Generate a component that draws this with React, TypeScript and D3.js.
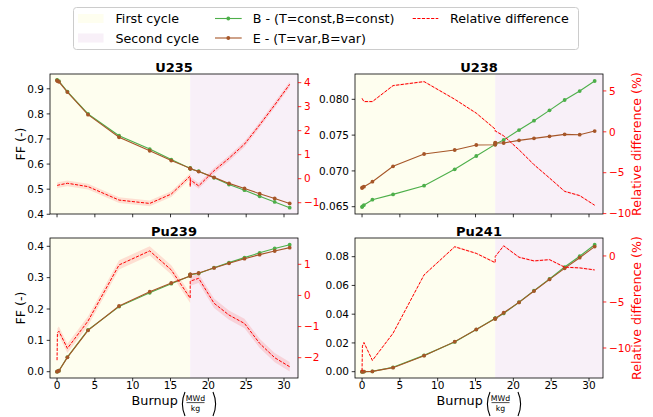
import React from "react";
import * as d3 from "d3";

// ---------- data ----------
const burnup = [0, 0.05, 0.25, 1.37, 4.1, 8.2, 12.25, 15.1, 17.6, 17.6, 17.62, 18.72, 20.75, 22.73, 24.78, 26.78, 28.77, 30.75];
const cycleEnd = 17.6;
const xTicks = [0, 5, 10, 15, 20, 25, 30];

const isotopes = ["U235", "U238", "Pu239", "Pu241"];

const u235B = [0.9357, 0.9336, 0.9304, 0.8887, 0.7996, 0.7133, 0.6598, 0.618, 0.5824, 0.585, 0.5813, 0.5717, 0.5452, 0.5186, 0.4959, 0.4714, 0.4492, 0.4263];
const u235E = [0.933, 0.931, 0.928, 0.887, 0.797, 0.707, 0.653, 0.614, 0.583, 0.583, 0.581, 0.57, 0.547, 0.523, 0.503, 0.482, 0.463, 0.443];
const u235Rel = [-0.29, -0.28, -0.26, -0.19, -0.33, -0.89, -1.03, -0.64, 0.11, -0.33, -0.05, -0.3, 0.33, 0.85, 1.44, 2.24, 3.07, 3.93];

const u238B = [0.06495, 0.06505, 0.06523, 0.06598, 0.06672, 0.06794, 0.07022, 0.07208, 0.07371, 0.07371, 0.07375, 0.07432, 0.07571, 0.07702, 0.07846, 0.07991, 0.08116, 0.08256];
const u238E = [0.06761, 0.0677, 0.0678, 0.06849, 0.07064, 0.07236, 0.07292, 0.07362, 0.07365, 0.07394, 0.07392, 0.0739, 0.07427, 0.07455, 0.07483, 0.07511, 0.07506, 0.07557];
const u238Rel = [4.1, 4.0, 3.7, 3.7, 5.65, 6.14, 3.98, 2.28, 0.33, 0.08, 0.1, -0.49, -2.2, -4.02, -5.65, -7.28, -7.8, -8.98];

const pu239B = [0, 0.001, 0.003, 0.0465, 0.1331, 0.2076, 0.2517, 0.2807, 0.3056, 0.3092, 0.3092, 0.3132, 0.3317, 0.3479, 0.3639, 0.3792, 0.393, 0.405];
const pu239E = [0, 0.001, 0.003, 0.0457, 0.132, 0.2096, 0.2553, 0.283, 0.3053, 0.3106, 0.3106, 0.3149, 0.3309, 0.3457, 0.3606, 0.3734, 0.3851, 0.3957];
const pu239Rel = [-2.08, -1.2, -1.15, -1.7, -0.82, 0.98, 1.43, 0.82, -0.09, 0.46, 0.46, 0.55, -0.25, -0.63, -0.9, -1.54, -2.0, -2.29];

const pu241B = [0, 0, 0.00005, 0.0002, 0.00306, 0.01134, 0.0207, 0.0293, 0.0372, 0.0369, 0.037, 0.0405, 0.0483, 0.0564, 0.0645, 0.0728, 0.0803, 0.0883];
const pu241E = [0, 0, 0.00005, 0.0002, 0.0028, 0.0111, 0.0209, 0.0294, 0.0369, 0.0369, 0.037, 0.041, 0.0482, 0.0561, 0.0642, 0.0719, 0.0793, 0.087];
const pu241Rel = [-12.5, -9.8, -9.4, -11.35, -8.4, -2.06, 1.0, 0.28, -0.73, -0.07, -0.05, 1.1, -0.14, -0.54, -0.4, -1.22, -1.3, -1.52];

const leftTicks = [
  [0.4, 0.5, 0.6, 0.7, 0.8, 0.9],
  [0.065, 0.07, 0.075, 0.08],
  [0, 0.1, 0.2, 0.3, 0.4],
  [0, 0.02, 0.04, 0.06, 0.08],
];
const leftFormats = [".1f", ".3f", ".1f", ".2f"];
const rightTicks = [
  [-1, 0, 1, 2, 3, 4],
  [-10, -5, 0, 5],
  [-2, -1, 0, 1],
  [-10, -5, 0],
];
const leftDomains = [
  [0.401, 0.959],
  [0.06398, 0.08354],
  [-0.0201, 0.4265],
  [-0.0044, 0.093],
];
const rightDomains = [
  [-1.47, 4.36],
  [-10.05, 7.07],
  [-2.652, 1.845],
  [-13.26, 1.95],
];
const bandHalfWidth = [0.12, 0.1, 0.15, 0.1];

const seriesB = [u235B, u238B, pu239B, pu241B];
const seriesE = [u235E, u238E, pu239E, pu241E];
const seriesRel = [u235Rel, u238Rel, pu239Rel, pu241Rel];

// ---------- style ----------
const FONT = "DejaVu Sans, Liberation Sans, sans-serif";
const GREEN = "#4daf4a";
const BROWN = "#a65628";
const RED = "#ff0000";
const CYCLE1 = "#fefeef";
const CYCLE2 = "#f8f0f8";
const W = 653;
const H = 417;

const cols = [
  [50, 298],
  [355, 603],
];
const rows = [
  [74, 214],
  [238, 378],
];

const minus = (s: string) => s.replace(/-/g, "\u2212");

function Panel({ idx }: { idx: number }) {
  const col = idx % 2;
  const row = Math.floor(idx / 2);
  const [x0, x1] = cols[col];
  const [y0, y1] = rows[row];

  const x = d3.scaleLinear().domain([-0.93, 31.85]).range([x0, x1]);
  const yL = d3.scaleLinear().domain(leftDomains[idx]).range([y1, y0]);
  const yR = d3.scaleLinear().domain(rightDomains[idx]).range([y1, y0]);

  const B = seriesB[idx];
  const E = seriesE[idx];
  const R = seriesRel[idx];
  const bw = bandHalfWidth[idx];

  const line = d3
    .line<number>()
    .x((_, i) => x(burnup[i]))
    .y((d) => yL(d));
  const relLine = d3
    .line<number>()
    .x((_, i) => x(burnup[i]))
    .y((d) => yR(d));
  const band = d3
    .area<number>()
    .x((_, i) => x(burnup[i]))
    .y0((d) => yR(d - bw))
    .y1((d) => yR(d + bw));

  const fmtL = d3.format(leftFormats[idx]);
  const clipId = `clip${idx}`;

  return (
    <g>
      <defs>
        <clipPath id={clipId}>
          <rect x={x0} y={y0} width={x1 - x0} height={y1 - y0} />
        </clipPath>
      </defs>
      <rect x={x0} y={y0} width={x(cycleEnd) - x0} height={y1 - y0} fill={CYCLE1} />
      <rect x={x(cycleEnd)} y={y0} width={x1 - x(cycleEnd)} height={y1 - y0} fill={CYCLE2} />
      <g clipPath={`url(#${clipId})`}>
        <path d={line(B) || ""} fill="none" stroke={GREEN} strokeWidth={1.1} />
        {B.map((v, i) => (
          <circle key={"b" + i} cx={x(burnup[i])} cy={yL(v)} r={1.9} fill={GREEN} />
        ))}
        <path d={line(E) || ""} fill="none" stroke={BROWN} strokeWidth={1.1} />
        {E.map((v, i) => (
          <circle key={"e" + i} cx={x(burnup[i])} cy={yL(v)} r={1.9} fill={BROWN} />
        ))}
        <path d={band(R) || ""} fill={RED} fillOpacity={0.12} stroke="none" />
        <path d={relLine(R) || ""} fill="none" stroke={RED} strokeWidth={1} strokeDasharray="3.2,1.4" />
      </g>
      <rect x={x0} y={y0} width={x1 - x0} height={y1 - y0} fill="none" stroke="#000" strokeWidth={0.8} />
      {/* left ticks */}
      {leftTicks[idx].map((t) => (
        <g key={"l" + t}>
          <line x1={x0 - 3.3} x2={x0} y1={yL(t)} y2={yL(t)} stroke="#000" strokeWidth={0.8} />
          <text x={x0 - 6} y={yL(t)} dy="0.36em" textAnchor="end" fontSize={10.5} fontFamily={FONT} fill="#000">
            {minus(fmtL(t))}
          </text>
        </g>
      ))}
      {/* right ticks */}
      {rightTicks[idx].map((t) => (
        <g key={"r" + t}>
          <line x1={x1} x2={x1 + 3.3} y1={yR(t)} y2={yR(t)} stroke={RED} strokeWidth={0.8} />
          <text x={x1 + 6} y={yR(t)} dy="0.36em" textAnchor="start" fontSize={10.5} fontFamily={FONT} fill={RED}>
            {minus(String(t))}
          </text>
        </g>
      ))}
      {/* bottom ticks */}
      {xTicks.map((t) => (
        <g key={"x" + t}>
          <line x1={x(t)} x2={x(t)} y1={y1} y2={y1 + 3.3} stroke="#000" strokeWidth={0.8} />
          {row === 1 && (
            <text x={x(t)} y={y1 + 11} textAnchor="middle" fontSize={10.5} fontFamily={FONT} fill="#000">
              {String(t)}
            </text>
          )}
        </g>
      ))}
      {/* title */}
      <text x={(x0 + x1) / 2} y={y0 - 2.5} textAnchor="middle" fontSize={13} fontWeight="bold" fontFamily={FONT} fill="#000">
        {isotopes[idx]}
      </text>
      {col === 0 && (
        <text
          transform={`translate(${20.7},${(y0 + y1) / 2}) rotate(-90)`}
          textAnchor="middle"
          dominantBaseline="central"
          fontSize={12.6}
          fontFamily={FONT}
          fill="#000"
        >
          FF (-)
        </text>
      )}
      {col === 1 && (
        <text
          transform={`translate(${636.7},${(y0 + y1) / 2}) rotate(-90)`}
          textAnchor="middle"
          dominantBaseline="central"
          fontSize={12.6}
          fontFamily={FONT}
          fill={RED}
        >
          Relative difference (%)
        </text>
      )}
      {row === 1 && <XLabel cx={(x0 + x1) / 2} />}
    </g>
  );
}

function XLabel({ cx }: { cx: number }) {
  const L = cx - 42.5;
  const fc = L + 64;
  return (
    <g fontFamily={FONT} fill="#000">
      <text x={L} y={405} fontSize={12.8}>
        Burnup
      </text>
      <path d={`M ${L + 53.5} 392 Q ${L + 48.3} 404 ${L + 53.5} 416`} fill="none" stroke="#000" strokeWidth={1.1} />
      <text x={fc} y={400.8} fontSize={7.8} textAnchor="middle">
        MWd
      </text>
      <line x1={fc - 9} x2={fc + 9} y1={402.6} y2={402.6} stroke="#000" strokeWidth={0.7} />
      <text x={fc} y={410.5} fontSize={7.8} textAnchor="middle">
        kg
      </text>
      <path d={`M ${L + 81.5} 392 Q ${L + 86.7} 404 ${L + 81.5} 416`} fill="none" stroke="#000" strokeWidth={1.1} />
    </g>
  );
}

function Legend() {
  const fs = 12.7;
  return (
    <g fontFamily={FONT} fontSize={fs} fill="#000">
      <rect x={73.5} y={7.5} width={505} height={42} rx={3} fill="#fff" fillOpacity={0.8} stroke="#cccccc" strokeWidth={1} />
      <rect x={78} y={14} width={25.5} height={9} fill={CYCLE1} />
      <text x={115.5} y={23}>First cycle</text>
      <rect x={78} y={33.5} width={25.5} height={9} fill={CYCLE2} />
      <text x={115.5} y={42.5}>Second cycle</text>

      <line x1={215} x2={241.7} y1={18.5} y2={18.5} stroke={GREEN} strokeWidth={1.1} />
      <circle cx={228.3} cy={18.5} r={1.9} fill={GREEN} />
      <text x={252.7} y={23}>B - (T=const,B=const)</text>
      <line x1={215} x2={241.7} y1={38} y2={38} stroke={BROWN} strokeWidth={1.1} />
      <circle cx={228.3} cy={38} r={1.9} fill={BROWN} />
      <text x={252.7} y={42.5}>E - (T=var,B=var)</text>

      <line x1={412.7} x2={438.3} y1={18.5} y2={18.5} stroke={RED} strokeWidth={1} strokeDasharray="3.2,1.4" />
      <text x={450} y={23}>Relative difference</text>
    </g>
  );
}

export default function App() {
  return (
    <svg
      width={W}
      height={H}
      viewBox={`0 0 ${W} ${H}`}
      style={{ position: "absolute", left: 0, top: 0, background: "#fff" }}
    >
      <rect x={0} y={0} width={W} height={H} fill="#fff" />
      {[0, 1, 2, 3].map((i) => (
        <Panel key={i} idx={i} />
      ))}
      <Legend />
    </svg>
  );
}
